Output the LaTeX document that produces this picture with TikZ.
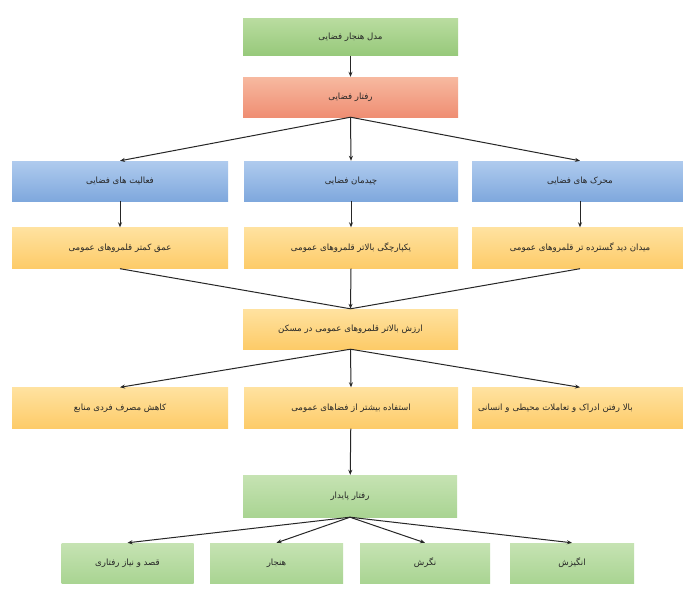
\documentclass[tikz,border=0pt]{standalone}
\usepackage{fontspec}
\newfontfamily\arabicfont[Script=Arabic]{DejaVu Sans}
\TeXXeTstate=1
\usetikzlibrary{arrows.meta}
\definecolor{gTop}{HTML}{B9DCA0}
\definecolor{gBot}{HTML}{97C97A}
\definecolor{sTop}{HTML}{F7B9A0}
\definecolor{sBot}{HTML}{EF8E73}
\definecolor{bTop}{HTML}{AFCBEE}
\definecolor{bBot}{HTML}{7FA8DD}
\definecolor{yTop}{HTML}{FFE2A0}
\definecolor{yBot}{HTML}{FDCB68}
\definecolor{pTop}{HTML}{C6E3B3}
\definecolor{pBot}{HTML}{A9D492}
\tikzset{
  box/.style={rectangle, minimum height=40pt, inner sep=0pt,
    font=\arabicfont\fontsize{8.6}{10}\selectfont, text=black!85},
  greenbox/.style={box, top color=gTop, bottom color=gBot},
  salmonbox/.style={box, top color=sTop, bottom color=sBot},
  bluebox/.style={box, top color=bTop, bottom color=bBot},
  yellowbox/.style={box, top color=yTop, bottom color=yBot},
  palebox/.style={box, top color=pTop, bottom color=pBot},
  conn/.style={-{Stealth[length=5pt,width=4pt]}, line width=1pt, draw=black!85},
  plain/.style={line width=1pt, draw=black!85}
}
\begin{document}
\begin{tikzpicture}[x=1pt,y=-1pt]
\useasboundingbox (0,0) rectangle (683,589);
\fill[white] (0,0) rectangle (683,589);
% level 1-2
\node[greenbox, minimum width=215pt, minimum height=37pt] (top) at (350.5,37) {\beginR مدل هنجار فضایی\endR};
\node[salmonbox, minimum width=215pt, minimum height=40pt] (beh) at (350.5,97) {\beginR رفتار فضایی\endR};
% blue row
\node[bluebox, minimum width=216pt, minimum height=40pt] (bl) at (120,181) {\beginR فعالیت های فضایی\endR};
\node[bluebox, minimum width=214pt, minimum height=40pt] (bc) at (351,181) {\beginR چیدمان فضایی\endR};
\node[bluebox, minimum width=216pt, minimum height=40pt] (br) at (580,181) {\beginR محرک های فضایی\endR};
% yellow row 1
\node[yellowbox, minimum width=216pt, minimum height=41pt] (yl) at (120,248) {\beginR عمق کمتر قلمروهای عمومی\endR};
\node[yellowbox, minimum width=214pt, minimum height=41pt] (yc) at (351,248) {\beginR یکپارچگی بالاتر قلمروهای عمومی\endR};
\node[yellowbox, minimum width=216pt, minimum height=41pt] (yr) at (580,248) {\beginR میدان دید گسترده تر قلمروهای عمومی\endR};
% middle
\node[yellowbox, minimum width=215pt, minimum height=40pt] (mid) at (350.5,329) {\beginR ارزش بالاتر قلمروهای عمومی در مسکن\endR};
% yellow row 2
\node[yellowbox, minimum width=216pt, minimum height=41pt] (zl) at (120,408) {\beginR کاهش مصرف فردی منابع\endR};
\node[yellowbox, minimum width=214pt, minimum height=41pt] (zc) at (351,408) {\beginR استفاده بیشتر از فضاهای عمومی\endR};
\node[yellowbox, minimum width=222pt, minimum height=41pt, text width=210pt, align=left] (zr) at (583,408) {\beginR بالا رفتن ادراک و تعاملات محیطی و انسانی\endR};
% sustainable behaviour
\node[palebox, minimum width=214pt, minimum height=42pt] (sus) at (350,496) {\beginR رفتار پایدار\endR};
% bottom row
\node[palebox, minimum width=132pt, minimum height=40pt] (q1) at (127.5,563) {\beginR قصد و نیاز رفتاری\endR};
\node[palebox, minimum width=133pt, minimum height=40pt] (q2) at (276.5,563) {\beginR هنجار\endR};
\node[palebox, minimum width=130pt, minimum height=40pt] (q3) at (425,563) {\beginR نگرش\endR};
\node[palebox, minimum width=124pt, minimum height=40pt] (q4) at (572,563) {\beginR انگیزش\endR};
% connectors
\draw[conn] (top) -- (beh);
\draw[conn] (beh.south) -- (bl.north);
\draw[conn] (beh.south) -- (bc.north);
\draw[conn] (beh.south) -- (br.north);
\draw[conn] (bl) -- (yl);
\draw[conn] (bc) -- (yc);
\draw[conn] (br) -- (yr);
\draw[plain] (yl.south) -- (mid.north);
\draw[plain] (yr.south) -- (mid.north);
\draw[conn] (yc.south) -- (mid.north);
\draw[conn] (mid.south) -- (zl.north);
\draw[conn] (mid.south) -- (zc.north);
\draw[conn] (mid.south) -- ([xshift=-3pt]zr.north);
\draw[conn] (zc) -- (sus);
\draw[conn] (sus.south) -- (q1.north);
\draw[conn] (sus.south) -- (q2.north);
\draw[conn] (sus.south) -- (q3.north);
\draw[conn] (sus.south) -- (q4.north);
\end{tikzpicture}
\end{document}
